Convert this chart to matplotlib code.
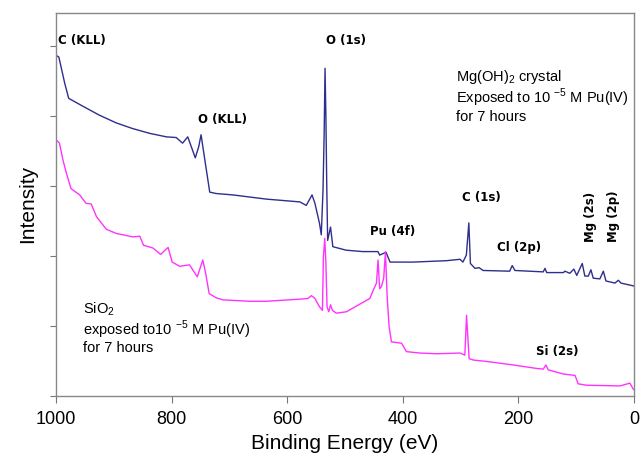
import numpy as np
import matplotlib
matplotlib.use('Agg')
import matplotlib.pyplot as plt

plt.rcParams['font.family'] = ['Liberation Sans', 'DejaVu Sans']

# Mg(OH)2 spectrum (upper, blue): binding energy (eV), intensity (a.u.)
mg_energy = [999, 995, 985, 978, 954, 925, 896, 868, 838, 809, 792, 781, 772, 759, 753,
             749, 745, 734, 723, 694, 636, 578, 567, 557, 552, 544, 541, 538, 536, 534.5,
             533, 531.6, 530, 525, 521, 498, 469, 443, 440, 429, 422, 382, 324, 301, 296,
             290, 285.7, 283, 275, 268, 261, 215, 210.7, 206, 157, 154, 151, 122, 119.5,
             111, 104, 99, 89.5, 85, 79, 74.5, 70.5, 59, 53, 48.5, 33, 27, 22.5, 1]
mg_int = [4.86, 4.84, 4.47, 4.25, 4.14, 4.01, 3.90, 3.82, 3.75, 3.70, 3.69, 3.61, 3.70, 3.40, 3.56,
          3.73, 3.51, 2.91, 2.89, 2.87, 2.81, 2.77, 2.72, 2.87, 2.75, 2.46, 2.30, 2.94, 3.75, 4.68,
          3.99, 3.04, 2.22, 2.41, 2.13, 2.08, 2.06, 2.06, 2.01, 2.05, 1.91, 1.91, 1.93, 1.95, 1.91,
          2.01, 2.47, 1.89, 1.82, 1.83, 1.79, 1.78, 1.86, 1.79, 1.77, 1.82, 1.76, 1.76, 1.78,
          1.75, 1.81, 1.72, 1.89, 1.71, 1.71, 1.80, 1.68, 1.67, 1.78, 1.64, 1.61, 1.65, 1.61, 1.57]

# SiO2 spectrum (lower, magenta)
si_energy = [999, 994, 988, 982, 974, 959, 948, 939, 930, 913, 896, 867, 855, 848.5, 832,
             819, 806, 799, 786, 769, 755.5, 746, 741, 735, 723, 711, 665, 636, 578, 564,
             558, 552, 544, 539, 537.3, 535, 533, 531, 528, 525, 521.7, 515, 497.5, 457,
             451, 445.5, 442.8, 440, 437, 433, 430, 427, 423.7, 419.6, 402, 393.6, 370.6,
             341.6, 301, 292.6, 289.7, 285.2, 278, 255, 209, 168.5, 157, 152.4, 148.4, 122,
             102, 96.5, 82, 24, 7, 1]
si_int = [3.65, 3.61, 3.37, 3.18, 2.96, 2.87, 2.75, 2.74, 2.56, 2.38, 2.32, 2.27, 2.28, 2.15, 2.11,
          2.02, 2.12, 1.91, 1.85, 1.87, 1.70, 1.94, 1.75, 1.46, 1.40, 1.37, 1.35, 1.35, 1.38, 1.39,
          1.43, 1.39, 1.27, 1.22, 1.99, 2.25, 1.89, 1.27, 1.20, 1.30, 1.22, 1.18, 1.20, 1.39,
          1.51, 1.61, 1.94, 1.53, 1.56, 1.68, 2.06, 1.41, 0.99, 0.77, 0.75, 0.63, 0.61,
          0.60, 0.61, 0.58, 1.15, 0.53, 0.51, 0.49, 0.44, 0.39, 0.38, 0.44, 0.37, 0.31,
          0.29, 0.17, 0.15, 0.14, 0.18, 0.09]

# peak labels: text, energy, intensity, rotation
peak_labels = [('C (KLL)', 996, 5.07, 0), ('O (KLL)', 755, 3.95, 0), ('O (1s)', 532, 5.07, 0),
               ('Pu (4f)', 457, 2.34, 0), ('C (1s)', 298, 2.84, 0), ('Cl (2p)', 237, 2.12, 0),
               ('Si (2s)', 170, 0.63, 0), ('Mg (2s)', 76, 2.2, 90), ('Mg (2p)', 36, 2.2, 90)]

fig = plt.figure(figsize=(6.42, 4.61), dpi=100)
ax = fig.add_axes([0.0872, 0.1416, 0.9003, 0.8302])

ax.plot(mg_energy, mg_int, color='#2e2e8e', lw=1.0)
ax.plot(si_energy, si_int, color='#ff33ff', lw=1.0)

ax.set_xlim(1000, 0)
ax.set_ylim(0, 5.47)
ax.set_xticks([1000, 800, 600, 400, 200, 0])
ax.set_yticks([0, 1, 2, 3, 4, 5])
ax.set_yticklabels([])
ax.tick_params(axis='x', labelsize=13, length=5, color='#777777', pad=6)
ax.tick_params(axis='y', length=4, color='#777777')
for s in ax.spines.values():
    s.set_color('#888888')
    s.set_linewidth(1.0)

ax.set_xlabel('Binding Energy (eV)', fontsize=15, labelpad=4)
ax.set_ylabel('Intensity', fontsize=15, labelpad=6)

for txt, e, i, rot in peak_labels:
    if rot:
        ax.text(e, i, txt, rotation=90, ha='center', va='bottom', fontsize=8.5,
                fontweight='bold', family='DejaVu Sans')
    else:
        ax.text(e, i, txt, ha='left', va='center', fontsize=8.5,
                fontweight='bold', family='DejaVu Sans')

ax.text(308, 4.68, 'Mg(OH)$_\\mathregular{2}$ crystal\nExposed to 10 $^{\\mathregular{-5}}$ M Pu(IV)\nfor 7 hours',
        ha='left', va='top', fontsize=10.5, linespacing=1.05)
ax.text(954, 1.37, 'SiO$_\\mathregular{2}$\nexposed to10 $^{\\mathregular{-5}}$ M Pu(IV)\nfor 7 hours',
        ha='left', va='top', fontsize=10.5, linespacing=1.05)

fig.savefig('out.png', dpi=100)
